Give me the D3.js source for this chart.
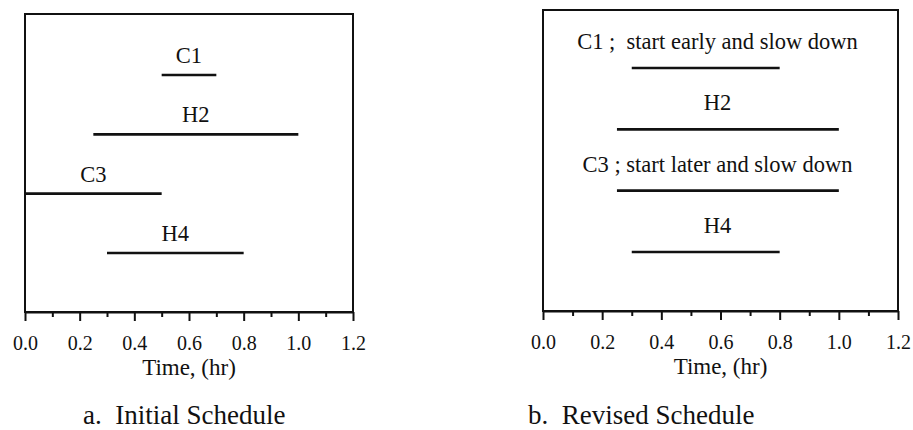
<!DOCTYPE html>
<html>
<head>
<meta charset="utf-8">
<script src="https://cdn.jsdelivr.net/npm/d3@7"></script>
<style>
  body { margin: 0; background: #fff; }
</style>
</head>
<body>
<div id="vis"></div>
<script>
// task names, top to bottom
var tasks = ["C1", "H2", "C3", "H4"];

// initial schedule, start / end in hours
var initialStart = [0.5, 0.25, 0.0, 0.3];
var initialEnd = [0.7, 1.0, 0.5, 0.8];
var initialLabels = ["C1", "H2", "C3", "H4"];

// revised schedule
var revisedStart = [0.3, 0.25, 0.25, 0.3];
var revisedEnd = [0.8, 1.0, 1.0, 0.8];
var revisedLabels = ["C1 ;  start early and slow down", "H2", "C3 ; start later and slow down", "H4"];

// axis ticks
var majorTicks = [0.0, 0.2, 0.4, 0.6, 0.8, 1.0, 1.2];
var minorTicks = [0.1, 0.3, 0.5, 0.7, 0.9, 1.1];
var axisTitle = "Time, (hr)";

var serif = "'Liberation Serif', 'DejaVu Serif', serif";
var ink = "#111";

var width = 913;
var height = 430;

var svg = d3
  .select("#vis")
  .append("svg")
  .attr("width", width)
  .attr("height", height);

// small helper so every label gets the same serif look
function styleText(sel, size) {
  return sel
    .style("font-family", serif)
    .style("font-size", size + "px")
    .style("fill", ink)
    .style("white-space", "pre");
}

// draws one framed schedule panel
function drawPanel(p) {
  var x = d3.scaleLinear().domain([0, 1.2]).range([p.left, p.right]);
  var y = d3.scalePoint().domain(tasks).range(p.rows);

  var g = svg.append("g");

  // frame
  g.append("rect")
    .attr("x", x(0))
    .attr("y", p.top)
    .attr("width", x(1.2) - x(0))
    .attr("height", p.bottom - p.top)
    .attr("fill", "none")
    .attr("stroke", ink)
    .attr("stroke-width", 2);

  // minor ticks, no labels
  g.append("g")
    .attr("transform", `translate(0, ${p.bottom})`)
    .call(d3.axisBottom(x).tickValues(minorTicks).tickSize(5).tickSizeOuter(0).tickFormat(""))
    .call((a) => a.select(".domain").remove())
    .selectAll("line")
    .attr("stroke", ink)
    .attr("stroke-width", 2);

  // major ticks with labels
  var ax = g.append("g")
    .attr("transform", `translate(0, ${p.bottom})`)
    .call(d3.axisBottom(x).tickValues(majorTicks).tickSize(9).tickSizeOuter(0).tickPadding(15).tickFormat(d3.format(".1f")));
  ax.select(".domain").attr("stroke", ink).attr("stroke-width", 2);
  ax.selectAll("line").attr("stroke", ink).attr("stroke-width", 2);
  styleText(ax.selectAll("text"), 20);

  // axis title
  styleText(
    g.append("text")
      .attr("x", x(0.6))
      .attr("y", p.bottom + 63)
      .attr("text-anchor", "middle")
      .text(axisTitle),
    23
  );

  // caption under the panel
  styleText(
    g.append("text")
      .attr("x", p.captionX)
      .attr("y", 424)
      .text(p.caption),
    27
  );

  // bars
  g.selectAll(".bar")
    .data(tasks)
    .enter()
    .append("line")
    .attr("class", "bar")
    .attr("x1", (d, i) => x(p.start[i]))
    .attr("x2", (d, i) => x(p.end[i]))
    .attr("y1", (d) => y(d))
    .attr("y2", (d) => y(d))
    .attr("stroke", ink)
    .attr("stroke-width", 2.6);

  // bar labels: over the bar on the left, centred in the frame on the right
  styleText(
    g.selectAll(".lab")
      .data(tasks)
      .enter()
      .append("text")
      .attr("class", "lab")
      .attr("x", (d, i) => (p.centreLabels ? x(0.6) - 3 : x((p.start[i] + p.end[i]) / 2)))
      .attr("y", (d) => y(d) - p.gap)
      .attr("text-anchor", "middle")
      .text((d, i) => p.labels[i]),
    22.5
  );
}

drawPanel({
  left: 25, right: 353, top: 14, bottom: 312,
  rows: [75, 253], gap: 12, centreLabels: false,
  start: initialStart, end: initialEnd, labels: initialLabels,
  caption: "a.  Initial Schedule", captionX: 83,
});

drawPanel({
  left: 543, right: 898, top: 10, bottom: 311,
  rows: [68, 252], gap: 19, centreLabels: true,
  start: revisedStart, end: revisedEnd, labels: revisedLabels,
  caption: "b.  Revised Schedule", captionX: 528,
});
</script>
</body>
</html>
